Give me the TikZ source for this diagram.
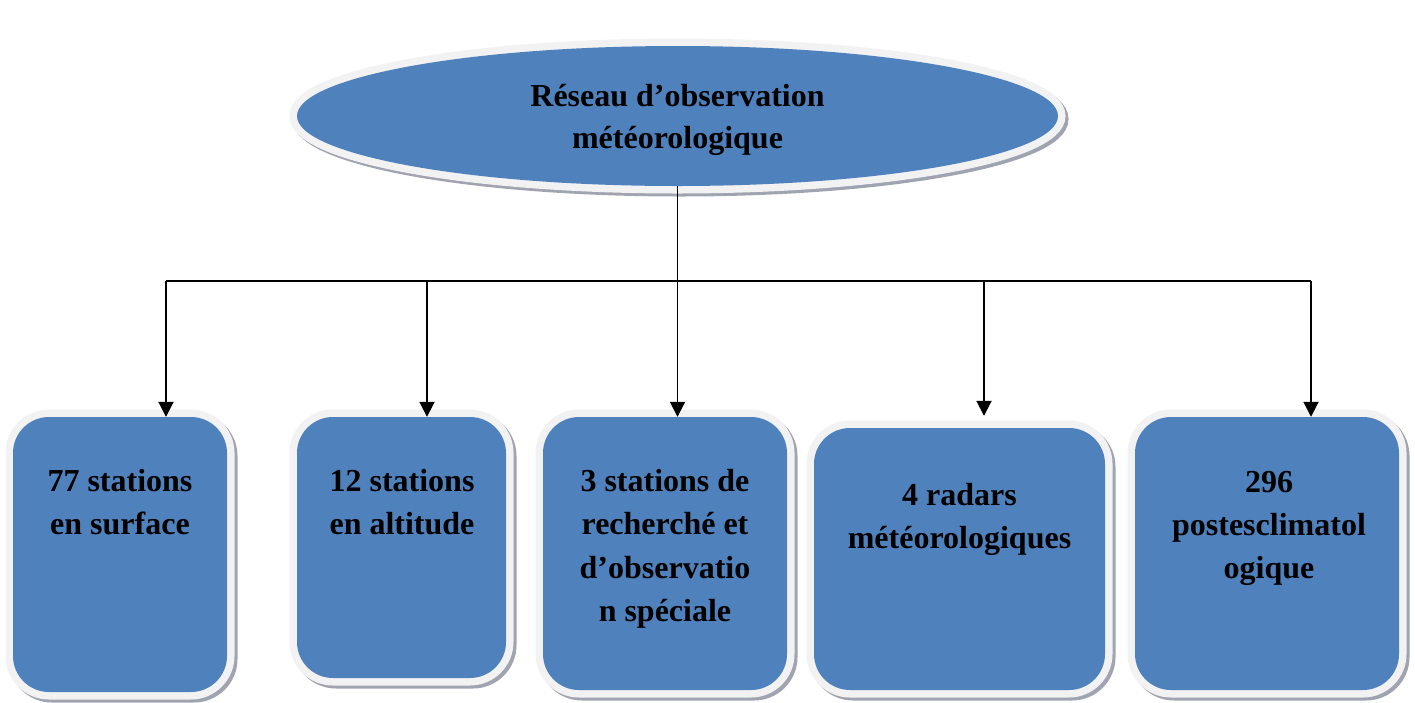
\documentclass[tikz,border=0pt]{standalone}
\usepackage{fontspec}
\setmainfont{Liberation Serif}
\usetikzlibrary{arrows.meta,shapes.geometric}
\definecolor{boxblue}{RGB}{79,129,189}
\definecolor{rimgray}{RGB}{242,242,242}
\definecolor{shadegray}{RGB}{160,164,176}
\begin{document}
\begin{tikzpicture}[x=1pt,y=-1pt,
  deco/.style={preaction={draw=shadegray,line width=15pt,transform canvas={shift={(3pt,-3pt)}}},
               preaction={draw=rimgray,line width=15pt}, fill=boxblue},
  box/.style={deco, rectangle, rounded corners=36pt, inner sep=0pt},
  lbl/.style={font=\bfseries\fontsize{32}{43.3}\selectfont, align=center, anchor=north, inner sep=0pt},
  conn/.style={line width=1.9pt, black},
  arr/.style={conn, -{Triangle[width=15pt,length=15pt]}}]
\useasboundingbox (0,0) rectangle (1415,702);

\node[deco, ellipse, minimum width=761pt, minimum height=140pt, inner sep=0pt] (top) at (677.5,116) {};
\node[lbl, font=\bfseries\fontsize{32}{42.5}\selectfont] (toptext) at (677.5,84)
      {Réseau d’observation\\météorologique};

\node[box, minimum width=214pt, minimum height=275pt] (b1) at (120,554.5) {};
\node[box, minimum width=209pt, minimum height=261pt] (b2) at (401.5,547.5) {};
\node[box, minimum width=244pt, minimum height=273pt] (b3) at (665,553.5) {};
\node[box, minimum width=291pt, minimum height=262pt] (b4) at (959.5,559) {};
\node[box, minimum width=264pt, minimum height=273pt] (b5) at (1267,553.5) {};

\node[lbl] (t1) at (120,469) {77 stations\\en surface};
\node[lbl] (t2) at (402,469) {12 stations\\en altitude};
\node[lbl] (t3) at (665,469) {3 stations de\\recherché et\\d’observatio\\n spéciale};
\node[lbl] (t4) at (959.5,483) {4 radars\\météorologiques};
\node[lbl] (t5) at (1269,471) {296\\postesclimatol\\ogique};

\coordinate (j) at (677.5,281);
\coordinate (d1) at (166,281);
\coordinate (d2) at (427,281);
\coordinate (d3) at (677.5,281);
\coordinate (d4) at (984,281);
\coordinate (d5) at (1311,281);

\draw[conn] (top.south) -- (j);
\draw[conn] (d1) -- (d5);
\draw[arr] (d1) -- (d1 |- b1.north);
\draw[arr] (d2) -- (d2 |- b2.north);
\draw[arr] (d3) -- (d3 |- b3.north);
\draw[arr] (d4) -- ([yshift=12pt]d4 |- b4.north);
\draw[arr] (d5) -- (d5 |- b5.north);
\end{tikzpicture}
\end{document}
